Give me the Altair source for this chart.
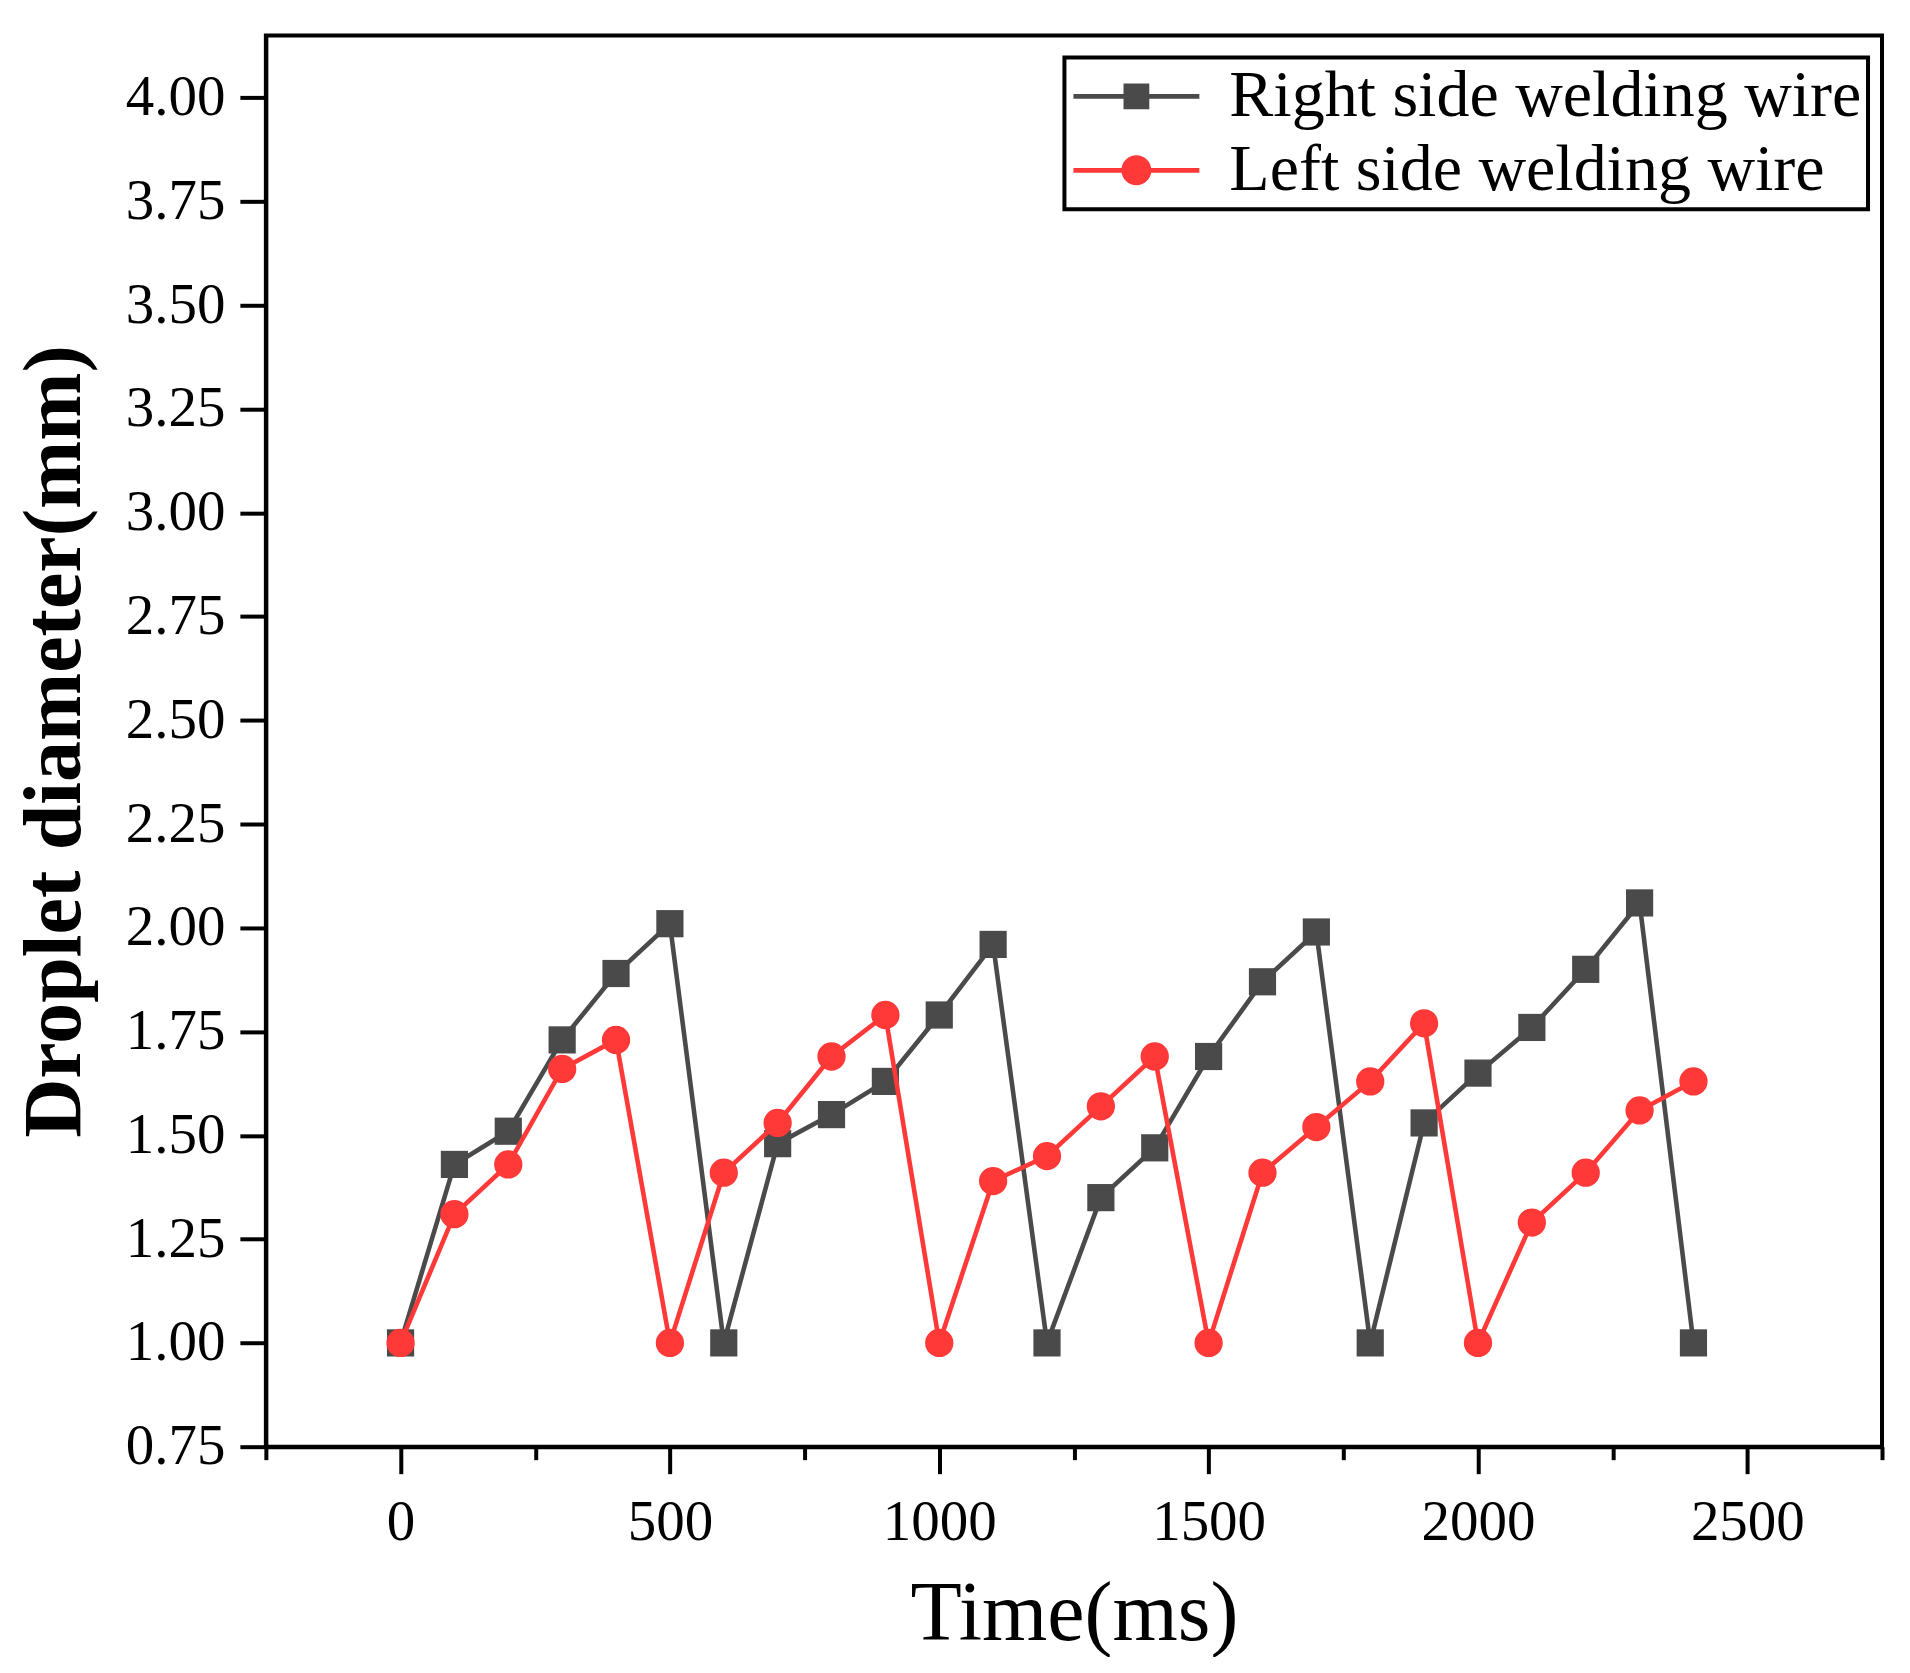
import altair as alt
import pandas as pd

time_ms = [0, 100, 200, 300, 400, 500, 600, 700, 800, 900, 1000, 1100, 1200,
           1300, 1400, 1500, 1600, 1700, 1800, 1900, 2000, 2100, 2200, 2300, 2400]
right_wire = [1.00, 1.43, 1.51, 1.73, 1.89, 2.01, 1.00, 1.48, 1.55, 1.63, 1.79, 1.96, 1.00,
              1.35, 1.47, 1.69, 1.87, 1.99, 1.00, 1.53, 1.65, 1.76, 1.90, 2.06, 1.00]
left_wire = [1.00, 1.31, 1.43, 1.66, 1.73, 1.00, 1.41, 1.53, 1.69, 1.79, 1.00, 1.39, 1.45,
             1.57, 1.69, 1.00, 1.41, 1.52, 1.63, 1.77, 1.00, 1.29, 1.41, 1.56, 1.63]

series_names = ["Right side welding wire", "Left side welding wire"]
series_colors = ["#4a4a4a", "#ff3838"]
x_major = [0, 500, 1000, 1500, 2000, 2500]
x_minor = [-250, 250, 750, 1250, 1750, 2250, 2750]
y_ticks = [0.75, 1.00, 1.25, 1.50, 1.75, 2.00, 2.25, 2.50, 2.75, 3.00, 3.25, 3.50, 3.75, 4.00]

df = pd.concat([
    pd.DataFrame({"time": time_ms, "diameter": right_wire, "series": series_names[0]}),
    pd.DataFrame({"time": time_ms, "diameter": left_wire, "series": series_names[1]}),
])

FONT = "Liberation Serif"
xs = alt.Scale(domain=[-250, 2750], nice=False, zero=False)
ys = alt.Scale(domain=[0.75, 4.15], nice=False, zero=False)
cs = alt.Scale(domain=series_names, range=series_colors)

# legend symbols: line segment with the marker on it (wider than the nominal box)
sym_square = "M-2.1,-0.08H2.1V0.08H-2.1Z M-0.43,-0.43H0.43V0.43H-0.43Z"
sym_circle = "M-0.5,0A0.5,0.5,0,1,1,0.5,0A0.5,0.5,0,1,1,-0.5,0Z M-2.1,-0.08H2.1V0.08H-2.1Z"

x_axis = alt.Axis(values=x_major, format="d", tickSize=27, labelPadding=21,
                  title="Time(ms)", titleFontSize=84, titleFontWeight="normal",
                  titleY=193, titleBaseline="alphabetic", orient="bottom")
x_minor_axis = alt.Axis(values=x_minor, labels=False, tickSize=13, domain=False,
                        title=None, orient="bottom")
y_axis = alt.Axis(values=y_ticks, format=".2f", tickSize=26, labelPadding=15,
                  title="Droplet diameter(mm)", titleFontSize=82, titleFontWeight="bold",
                  titleX=-186, titleBaseline="alphabetic", orient="left")

legend = alt.Legend(title=None, orient="none", legendX=799, legendY=22,
                    strokeColor="black", padding=6, rowPadding=8, symbolSize=3600,
                    symbolOffset=33, symbolStrokeWidth=0, symbolOpacity=1,
                    labelFontSize=66, labelOffset=60, labelColor="black",
                    labelFont=FONT, labelLimit=0)

layers = []
for i, name in enumerate(series_names):
    sub = alt.Chart(df).transform_filter(alt.datum.series == name)
    line = sub.mark_line(strokeWidth=4.6, color=series_colors[i]).encode(
        x=alt.X("time:Q", scale=xs, axis=x_axis if i == 0 else None),
        y=alt.Y("diameter:Q", scale=ys, axis=y_axis),
    )
    pts = sub.mark_point(filled=True, opacity=1, color=series_colors[i],
                         shape="square" if i == 0 else "circle",
                         size=740 if i == 0 else 800).encode(
        x=alt.X("time:Q", scale=xs, axis=x_minor_axis if i == 0 else None),
        y=alt.Y("diameter:Q", scale=ys, axis=y_axis),
    )
    layers += [line, pts]

legend_layer = alt.Chart(df).mark_point(filled=True, opacity=0).encode(
    x=alt.X("time:Q", scale=xs, axis=None),
    y=alt.Y("diameter:Q", scale=ys, axis=y_axis),
    color=alt.Color("series:N", scale=cs, legend=legend, sort=series_names),
    shape=alt.Shape("series:N", scale=alt.Scale(domain=series_names,
                                                range=[sym_square, sym_circle]),
                    legend=legend, sort=series_names),
)
layers.append(legend_layer)

chart = alt.layer(*layers).resolve_axis(x="independent").properties(
    width=1617, height=1412, autosize="none",
    padding={"left": 258, "top": 27, "right": 20, "bottom": 210},
).configure_view(stroke="black", strokeWidth=4).configure_axis(
    labelFont=FONT, titleFont=FONT, labelFontSize=57, labelColor="black",
    titleColor="black", domainColor="black", domainWidth=4, tickColor="black",
    tickWidth=4, grid=False,
).configure_legend(strokeWidth=4)

chart.save("out.html", embed_options={"renderer": "svg", "actions": False})
